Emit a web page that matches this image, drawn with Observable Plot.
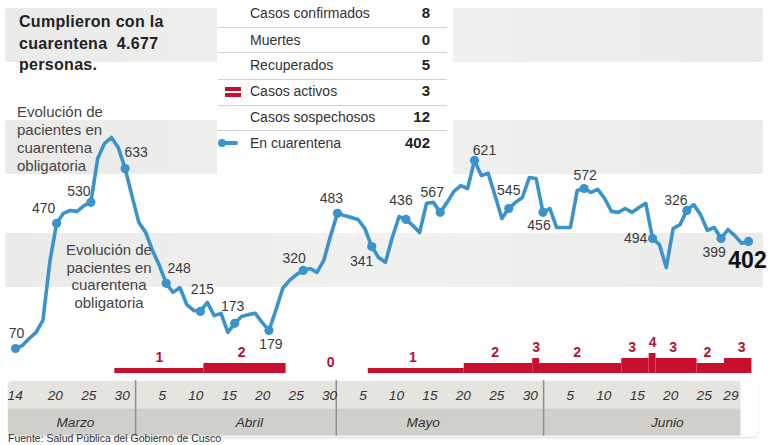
<!DOCTYPE html>
<html><head><meta charset="utf-8">
<script src="https://cdn.jsdelivr.net/npm/d3@7"></script>
<script src="https://cdn.jsdelivr.net/npm/@observablehq/plot@0.6"></script>
<style>
html,body{margin:0;padding:0;background:#fff;}
#chart{position:relative;width:768px;height:445px;overflow:hidden;font-family:"Liberation Sans",Arial,sans-serif;color:#333;}
.band{position:absolute;left:5px;width:758px;height:54px;background:linear-gradient(to right,#eaeae9,#f1f1f0 50%,#ebebea);border-radius:3px;}
.abs{position:absolute;white-space:nowrap;}
#chart svg{position:absolute;top:0;left:0;}
.row{position:absolute;left:250px;width:180px;height:20px;font-size:14px;line-height:20px;color:#333;}
.row b{position:absolute;right:0;top:0;font-size:15px;color:#222;}
.sep{position:absolute;left:218px;width:229px;height:1px;background:#d2d2d2;}
</style></head>
<body><div id="chart"></div>
<script>
// ---------- data ----------
const startDay = "2020-03-14";
const cuarentena = [
  70,79,101,120,157,337,458,489,498,495,513,523,659,706,724,693,628,544,
  461,430,374,327,272,244,259,206,188,185,213,172,179,120,148,169,175,179,151,126,188,256,281,299,312,318,306,343,420,489,
  482,476,470,442,386,352,337,414,479,470,451,430,520,523,492,523,557,575,566,653,606,613,544,473,504,523,538,600,597,492,504,
  445,445,445,560,566,554,563,535,495,492,504,492,507,520,411,392,321,442,454,498,516,485,436,445,411,439,420,396,402
];
const labeledDates = ["2020-03-14","2020-03-20","2020-03-25","2020-03-30","2020-04-05","2020-04-10","2020-04-15","2020-04-20","2020-04-25","2020-04-30","2020-05-05","2020-05-10","2020-05-15","2020-05-20","2020-05-25","2020-05-30","2020-06-05","2020-06-15","2020-06-20","2020-06-25","2020-06-29"];
const labeledValues = [70,470,530,633,248,215,173,179,320,483,341,436,567,621,545,456,572,494,326,399,402];

// Casos activos
const activeFrom  = ["2020-03-29","2020-04-11","2020-05-05","2020-05-19","2020-05-29","2020-05-30","2020-06-11","2020-06-15","2020-06-16","2020-06-22","2020-06-26"];
const activeTo    = ["2020-04-10","2020-04-22","2020-05-18","2020-05-28","2020-05-29","2020-06-10","2020-06-14","2020-06-15","2020-06-21","2020-06-25","2020-06-29"];
const activeValue = [1,2,1,2,3,2,3,4,3,2,3];
const activeLabelDates  = ["2020-04-04","2020-04-16","2020-04-29","2020-05-11","2020-05-23","2020-05-29","2020-06-04","2020-06-12","2020-06-15","2020-06-18","2020-06-23","2020-06-28"];
const activeLabelValues = [1,2,0,1,2,3,2,3,4,3,2,3];

// Eje temporal
const tickDates = ["2020-03-14","2020-03-20","2020-03-25","2020-03-30","2020-04-05","2020-04-10","2020-04-15","2020-04-20","2020-04-25","2020-04-30","2020-05-05","2020-05-10","2020-05-15","2020-05-20","2020-05-25","2020-05-30","2020-06-05","2020-06-10","2020-06-15","2020-06-20","2020-06-25","2020-06-29"];
const monthNames  = ["Marzo","Abril","Mayo","Junio"];
const monthStarts = ["2020-03-01","2020-04-01","2020-05-01","2020-06-01","2020-07-01"];

// Tabla
const legendLabels = ["Casos confirmados","Muertes","Recuperados","Casos activos","Casos sospechosos","En cuarentena"];
const legendValues = [8,0,5,3,12,402];

const titleLines = ["Cumplieron con la","cuarentena&nbsp; 4.677","personas."];
const noteLines = ["Evolución de","pacientes en","cuarentena","obligatoria"];
const sourceText = "Fuente: Salud Pública del Gobierno de Cusco";

// ---------- drawing ----------
const BLUE = "#3a93cb", RED = "#c8102e", RED_TXT = "#b3123c";
const FONT = "'Liberation Sans', Arial, sans-serif";
const DAY = 864e5;
const parse = s => new Date(s.length > 10 ? s + "Z" : s + "T00:00:00Z");
const t0 = parse(startDay);
const series = cuarentena.map((v, i) => ({date: new Date(+t0 + i * DAY), value: v}));
const xDomain = [t0, series[series.length - 1].date];
const valueAt = d => series.find(p => +p.date === +d).value;
const labeled = labeledDates.map((d, i) => ({date: parse(d), label: String(labeledValues[i]), value: valueAt(parse(d))}));

const chart = document.getElementById("chart");
const add = (html) => { chart.insertAdjacentHTML("beforeend", html); };

// background bands
[8, 120, 233].forEach(top => add(`<div class="band" style="top:${top}px"></div>`));
add(`<div class="abs" style="left:217px;top:0;width:236px;height:178px;background:#fff"></div>`);

const common = {width: 768, marginLeft: 15, marginRight: 20,
  style: {background: "transparent", fontFamily: FONT, fontSize: "14px", overflow: "visible"}};

// timeline axis
const boxStart = new Date(+t0 - DAY), boxEnd = new Date(+xDomain[1] + 1.5 * DAY);
const months = monthNames.map((n, i) => ({name: n,
  from: new Date(Math.max(+parse(monthStarts[i]), +boxStart)),
  to: new Date(Math.min(+parse(monthStarts[i + 1]), +boxEnd))}));
const monthLabelDay = [23, 18, 14, 19.5];
const monthLabels = months.map((m, i) => ({name: m.name, date: new Date(Date.UTC(2020, 2 + i, 1) + (monthLabelDay[i] - 1) * DAY)}));
const ticks = tickDates.map(d => ({date: parse(d), label: String(parse(d).getUTCDate())}));
const axisPlot = Plot.plot({...common, height: 57, marginTop: 0, marginBottom: 0,
  x: {type: "utc", domain: xDomain, axis: null},
  y: {type: "band", domain: ["d", "m"], padding: 0, axis: null},
  marks: [
    Plot.barX(months, {x1: "from", x2: "to", y: () => "d", fill: "#e6e4df"}),
    Plot.barX(months, {x1: "from", x2: "to", y: () => "m", fill: "#d1cfca"}),
    Plot.ruleX(months.slice(1), {x: "from", stroke: "#8e8e8e", strokeWidth: 1.5}),
    Plot.text(ticks, {x: "date", y: () => "d", text: "label", fontStyle: "italic", fontSize: 14, fill: "#333", dy: 1}),
    Plot.text(monthLabels, {x: "date", y: () => "m", text: "name", fontStyle: "italic", fontSize: 14, fill: "#333"})
  ]});
const axisWrap = document.createElement("div");
axisWrap.style.cssText = "position:absolute;left:8px;top:380px;width:750px;height:57px;overflow:hidden;border-radius:6px;box-shadow:0 1px 2px rgba(0,0,0,0.15);";
axisPlot.style.left = "-8px";
axisWrap.appendChild(axisPlot);
chart.appendChild(axisWrap);

// active cases steps
const periods = activeFrom.map((d, i) => ({x1: new Date(+parse(d) - DAY / 2), x2: new Date(+parse(activeTo[i]) + DAY / 2), value: activeValue[i]}));
const activeLabels = activeLabelDates.map((d, i) => ({date: parse(d), value: activeLabelValues[i]}));
const stepPlot = Plot.plot({...common, height: 45, marginTop: 23, marginBottom: 2,
  x: {type: "utc", domain: xDomain, axis: null},
  y: {domain: [0, 4], axis: null},
  marks: [
    Plot.rect(periods, {x1: "x1", x2: "x2", y1: 0, y2: "value", fill: RED}),
    Plot.text(activeLabels, {x: "date", y: "value", text: d => String(d.value), dy: -11, fill: RED_TXT, fontWeight: "bold", fontSize: 14})
  ]});
stepPlot.style.top = "330px";
chart.appendChild(stepPlot);

// quarantine line
const place = [[1,-15],[-13,-15],[-12,-11],[11,-16],[13,-15],[2,-22],[-2,-17],[2,14],[-9,-12],[-6,-15],[-10,15],[-5,-19],[-8,-20],[10,-10],[0,-18],[-4,13],[1,-13],[-17,0],[-11,-10],[-7,14],[-1,19]];
const last = labeled.length - 1;
const labelMarks = labeled.map((d, i) => Plot.text([d], {x: "date", y: "value", text: "label",
  dx: place[i][0], dy: place[i][1],
  fill: i === last ? "#111" : "#3a3a3a", fontSize: i === last ? 23 : 14, fontWeight: i === last ? "bold" : "normal"}));
const linePlot = Plot.plot({...common, height: 445, marginTop: 112.5, marginBottom: 74.4,
  x: {type: "utc", domain: xDomain, axis: null},
  y: {domain: [0, 800], axis: null},
  marks: [
    Plot.line(series, {x: "date", y: "value", stroke: BLUE, strokeWidth: 3.6, strokeLinejoin: "round", strokeLinecap: "round"}),
    Plot.dot(labeled, {x: "date", y: "value", r: 4.6, fill: BLUE}),
    ...labelMarks
  ]});
chart.appendChild(linePlot);

// title
add(`<div class="abs" style="left:19px;top:11px;font-size:16px;font-weight:bold;line-height:21.5px;color:#222;letter-spacing:0.3px">${titleLines.join("<br>")}</div>`);
// notes
add(`<div class="abs" style="left:17px;top:103px;font-size:15px;line-height:18px;color:#444">${noteLines.join("<br>")}</div>`);
add(`<div class="abs" style="left:49px;top:241px;width:120px;text-align:center;font-size:15px;line-height:17.7px;color:#444">${noteLines.join("<br>")}</div>`);

// legend table
const rowCenters = [13, 40, 65, 91, 117, 143];
legendLabels.forEach((l, i) => add(`<div class="row" style="top:${rowCenters[i] - 10}px">${l}<b>${legendValues[i]}</b></div>`));
[27, 52, 79, 105, 130].forEach(y => add(`<div class="sep" style="top:${y}px"></div>`));
add(`<div class="abs" style="left:225px;top:87px;width:16px;height:3.5px;background:${RED}"></div>`);
add(`<div class="abs" style="left:225px;top:93px;width:16px;height:3.5px;background:${RED}"></div>`);
add(`<div class="abs" style="left:221px;top:141.3px;width:17px;height:3.5px;background:${BLUE};border-radius:2px"></div>`);
add(`<div class="abs" style="left:218px;top:139px;width:8px;height:8px;border-radius:50%;background:${BLUE}"></div>`);

// source
add(`<div class="abs" style="left:8px;top:432px;font-size:10.5px;line-height:12px;color:#333">${sourceText}</div>`);
</script></body></html>
